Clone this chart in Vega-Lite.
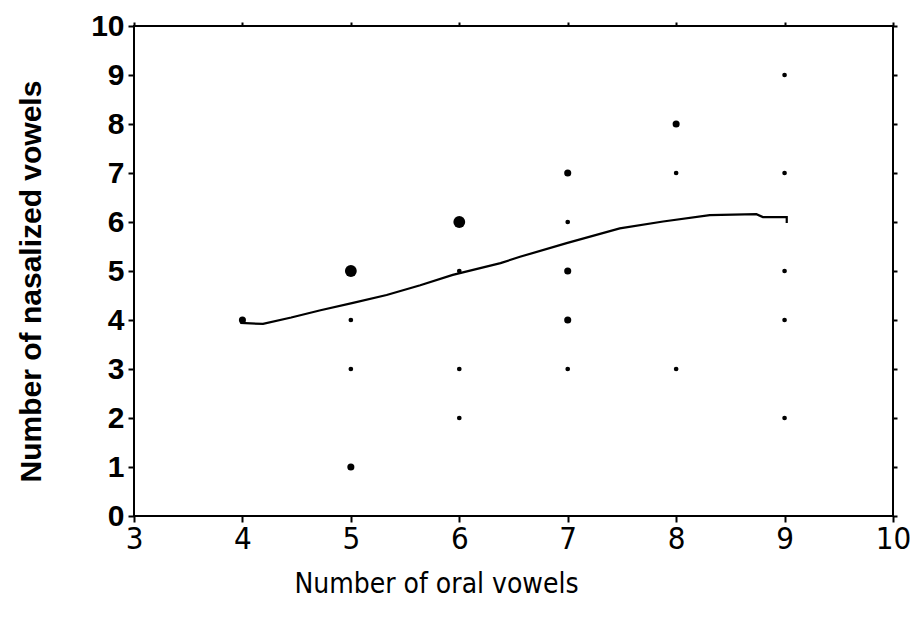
{
  "$schema": "https://vega.github.io/schema/vega-lite/v6.json",
  "width": 759,
  "height": 490,
  "autosize": {"type": "none"},
  "padding": {"left": 134, "top": 26, "right": 17, "bottom": 105},
  "background": "white",
  "config": {
    "view": {"stroke": "black", "strokeWidth": 2},
    "axis": {"grid": false, "domain": false, "tickColor": "black", "tickWidth": 2, "labelColor": "black", "titleColor": "black", "labelFlush": false, "labelOverlap": false}
  },
  "datasets": {
    "curve": [
      {"k": 1, "oral": 3.98, "nasal": 3.94},
      {"k": 2, "oral": 4.19, "nasal": 3.92},
      {"k": 3, "oral": 4.45, "nasal": 4.05},
      {"k": 4, "oral": 4.72, "nasal": 4.2},
      {"k": 5, "oral": 5.02, "nasal": 4.35},
      {"k": 6, "oral": 5.33, "nasal": 4.51},
      {"k": 7, "oral": 5.64, "nasal": 4.71},
      {"k": 8, "oral": 5.94, "nasal": 4.92},
      {"k": 9, "oral": 6.38, "nasal": 5.16},
      {"k": 10, "oral": 6.56, "nasal": 5.29},
      {"k": 11, "oral": 6.99, "nasal": 5.57},
      {"k": 12, "oral": 7.48, "nasal": 5.87},
      {"k": 13, "oral": 7.88, "nasal": 6.01},
      {"k": 14, "oral": 8.31, "nasal": 6.14},
      {"k": 15, "oral": 8.74, "nasal": 6.16},
      {"k": 16, "oral": 8.8, "nasal": 6.1},
      {"k": 17, "oral": 9.02, "nasal": 6.1},
      {"k": 18, "oral": 9.02, "nasal": 5.98}
    ],
    "languages": [
      {"oral": 4, "nasal": 4, "n": 2},
      {"oral": 5, "nasal": 5, "n": 3},
      {"oral": 5, "nasal": 4, "n": 1},
      {"oral": 5, "nasal": 3, "n": 1},
      {"oral": 5, "nasal": 1, "n": 2},
      {"oral": 6, "nasal": 6, "n": 3},
      {"oral": 6, "nasal": 5, "n": 1},
      {"oral": 6, "nasal": 3, "n": 1},
      {"oral": 6, "nasal": 2, "n": 1},
      {"oral": 7, "nasal": 7, "n": 2},
      {"oral": 7, "nasal": 6, "n": 1},
      {"oral": 7, "nasal": 5, "n": 2},
      {"oral": 7, "nasal": 4, "n": 2},
      {"oral": 7, "nasal": 3, "n": 1},
      {"oral": 8, "nasal": 8, "n": 2},
      {"oral": 8, "nasal": 7, "n": 1},
      {"oral": 8, "nasal": 3, "n": 1},
      {"oral": 9, "nasal": 9, "n": 1},
      {"oral": 9, "nasal": 7, "n": 1},
      {"oral": 9, "nasal": 5, "n": 1},
      {"oral": 9, "nasal": 4, "n": 1},
      {"oral": 9, "nasal": 2, "n": 1}
    ]
  },
  "resolve": {"axis": {"x": "independent", "y": "independent"}},
  "layer": [
    {
      "data": {"name": "curve"},
      "mark": {"type": "line", "color": "black", "strokeWidth": 2.2, "clip": true},
      "encoding": {
        "x": {
          "field": "oral", "type": "quantitative",
          "scale": {"domain": [3, 10], "nice": false, "zero": false},
          "axis": {
            "orient": "bottom", "values": [3, 4, 5, 6, 7, 8, 9, 10],
            "tickSize": 6, "labelPadding": 2,
            "labelFont": "Liberation Sans Narrow, DejaVu Sans Condensed, sans-serif",
            "labelFontSize": 31, "labelFontWeight": "normal",
            "title": "Number of oral vowels",
            "titleFont": "Liberation Sans Narrow, DejaVu Sans Condensed, sans-serif",
            "titleFontSize": 28, "titleFontWeight": "normal", "titlePadding": 16,
            "titleX": 302, "titleAlign": "center", "titleAnchor": "start"
          }
        },
        "y": {
          "field": "nasal", "type": "quantitative",
          "scale": {"domain": [0, 10], "nice": false, "zero": false},
          "axis": {
            "orient": "left", "values": [0, 1, 2, 3, 4, 5, 6, 7, 8, 9, 10],
            "tickSize": 6, "labelPadding": 4,
            "labelFont": "Liberation Sans, Arial, sans-serif",
            "labelFontSize": 30, "labelFontWeight": "bold",
            "title": "Number of nasalized vowels",
            "titleFont": "Liberation Sans, Arial, sans-serif",
            "titleFontSize": 30, "titleFontWeight": "bold", "titlePadding": 44,
            "titleY": 255, "titleAlign": "center", "titleAnchor": "start"
          }
        },
        "order": {"field": "k", "type": "quantitative"}
      }
    },
    {
      "data": {"name": "languages"},
      "mark": {"type": "circle", "color": "black", "opacity": 1},
      "encoding": {
        "x": {
          "field": "oral", "type": "quantitative",
          "axis": {"orient": "top", "values": [3, 4, 5, 6, 7, 8, 9, 10], "labels": false, "title": null, "tickSize": 4}
        },
        "y": {
          "field": "nasal", "type": "quantitative",
          "axis": {"orient": "right", "values": [0, 1, 2, 3, 4, 5, 6, 7, 8, 9, 10], "labels": false, "title": null, "tickSize": 4}
        },
        "size": {
          "field": "n", "type": "quantitative",
          "scale": {"type": "linear", "domain": [1, 2, 3], "range": [22, 50, 140], "zero": false},
          "legend": null
        }
      }
    }
  ]
}
